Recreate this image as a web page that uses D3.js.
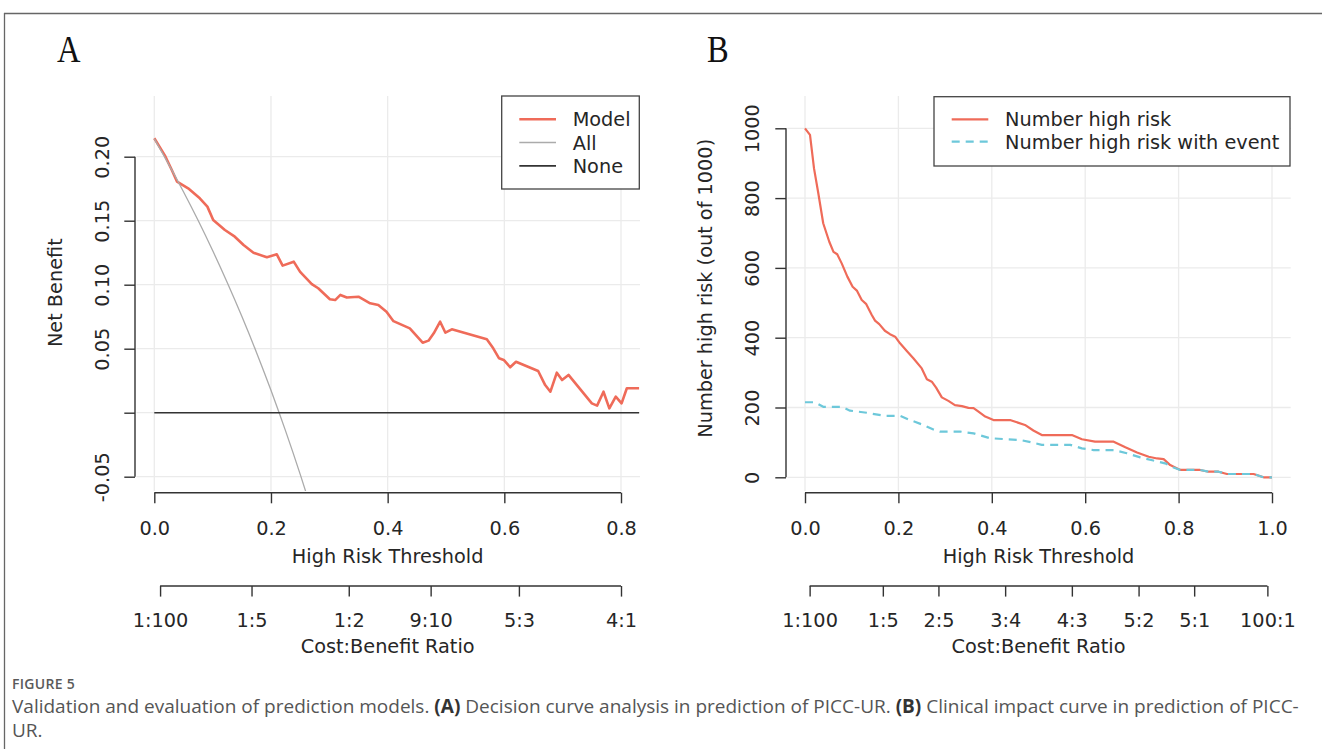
<!DOCTYPE html>
<html>
<head>
<meta charset="utf-8">
<script src="https://cdn.jsdelivr.net/npm/d3@7"></script>
<style>
  html, body { margin: 0; padding: 0; background: #fff; }
  svg { display: block; font-family: "DejaVu Sans", sans-serif; }
</style>
</head>
<body>
<svg id="chart" width="1322" height="749"></svg>
<script>
// ---------------- DATA ----------------
// Panel A: decision curve
const modelAThreshold = [0, 0.018, 0.030, 0.039, 0.058, 0.078, 0.091, 0.101, 0.121, 0.138, 0.153, 0.170, 0.193, 0.210, 0.220, 0.239, 0.250, 0.270, 0.281, 0.301, 0.310, 0.319, 0.330, 0.350, 0.370, 0.384, 0.398, 0.410, 0.438, 0.460, 0.470, 0.479, 0.490, 0.499, 0.510, 0.570, 0.581, 0.591, 0.599, 0.610, 0.620, 0.658, 0.670, 0.679, 0.690, 0.699, 0.710, 0.750, 0.759, 0.770, 0.780, 0.791, 0.801, 0.810, 0.831];
const modelANetBenefit = [0.2144, 0.201, 0.1896, 0.1805, 0.1753, 0.1675, 0.161, 0.1505, 0.1427, 0.1375, 0.131, 0.125, 0.1214, 0.1237, 0.1149, 0.118, 0.110, 0.1005, 0.0972, 0.0886, 0.088, 0.092, 0.090, 0.0906, 0.0855, 0.0841, 0.0789, 0.0715, 0.0659, 0.0547, 0.0563, 0.062, 0.0711, 0.0625, 0.0651, 0.0573, 0.0503, 0.0425, 0.0412, 0.0355, 0.0398, 0.0326, 0.0216, 0.0164, 0.0313, 0.0255, 0.0295, 0.0073, 0.0055, 0.0164, 0.0034, 0.0125, 0.0073, 0.0191, 0.0191];
const allAThreshold = [0, 0.025, 0.05, 0.075, 0.10, 0.125, 0.15, 0.175, 0.20, 0.214, 0.225, 0.25, 0.26];
const allANetBenefit = [0.214, 0.1938, 0.1726, 0.1503, 0.1267, 0.1017, 0.0753, 0.0473, 0.0175, 0.0, -0.0142, -0.048, -0.0622];
const noneAThreshold = [0, 0.831];
const noneANetBenefit = [0, 0];
const xTicksA = [0, 0.2, 0.4, 0.6, 0.8];
const xTickLabelsA = ["0.0", "0.2", "0.4", "0.6", "0.8"];
const yTicksA = [-0.05, 0, 0.05, 0.10, 0.15, 0.20];
const yTickLabelsA = ["-0.05", "", "0.05", "0.10", "0.15", "0.20"];
const costBenefitA = ["1:100", "1:5", "1:2", "9:10", "5:3", "4:1"];
const legendA = ["Model", "All", "None"];

// Panel B: clinical impact curve
const highRiskThreshold = [0, 0.0107, 0.0193, 0.0285, 0.039, 0.052, 0.061, 0.069, 0.0786, 0.0907, 0.102, 0.111, 0.1215, 0.1307, 0.143, 0.150, 0.159, 0.171, 0.182, 0.193, 0.2035, 0.218, 0.232, 0.250, 0.261, 0.2715, 0.2807, 0.293, 0.307, 0.321, 0.336, 0.350, 0.361, 0.3715, 0.386, 0.4035, 0.439, 0.471, 0.489, 0.507, 0.5715, 0.593, 0.621, 0.661, 0.686, 0.711, 0.736, 0.754, 0.768, 0.782, 0.8035, 0.846, 0.864, 0.8856, 0.9035, 0.9606, 0.982, 1.0];
const highRiskCount = [1000, 981, 885, 814, 728, 675, 646, 639, 613, 575, 546, 535, 508, 497, 465, 449, 439, 420, 410, 403, 384, 362, 341, 312, 281, 274, 257, 229, 219, 207, 204, 199, 198, 188, 174, 164, 164, 150, 134, 121, 121, 109, 102, 102, 86, 71, 59, 54, 52, 35, 21, 21, 16, 16, 9.5, 9.5, 0, 0];
const eventThreshold = [0, 0.021, 0.039, 0.0786, 0.0964, 0.132, 0.171, 0.2035, 0.225, 0.2535, 0.275, 0.289, 0.332, 0.361, 0.396, 0.432, 0.4607, 0.489, 0.507, 0.568, 0.593, 0.618, 0.661, 0.689, 0.718, 0.746, 0.771, 0.786, 0.8035, 0.846, 0.864, 0.8856, 0.9035, 0.9606, 0.982, 1.0];
const eventCount = [215, 215, 202, 202, 191, 185, 176, 176, 164, 150, 137, 131, 131, 126, 112, 109, 107, 99, 93, 93, 83, 78, 78, 69, 57, 48, 40, 30, 21, 21, 16, 16, 9.5, 9.5, 0, 0];
const xTicksB = [0, 0.2, 0.4, 0.6, 0.8, 1.0];
const xTickLabelsB = ["0.0", "0.2", "0.4", "0.6", "0.8", "1.0"];
const yTicksB = [0, 200, 400, 600, 800, 1000];
const yTickLabelsB = ["0", "200", "400", "600", "800", "1000"];
const costBenefitB = ["1:100", "1:5", "2:5", "3:4", "4:3", "5:2", "5:1", "100:1"];
const legendB = ["Number high risk", "Number high risk with event"];

// ---------------- STYLE ----------------
const RED = "#EF6B59", BLUE = "#6DC8DA", GREY = "#ABABAB", DARK = "#333333";
const GRID = "#EBEBEB", TXT = "#262626", FS = 19.3;
const SANS = "'DejaVu Sans', sans-serif";

const svg = d3.select("#chart");

// figure frame
svg.append("line").attr("x1", 4).attr("x2", 1322).attr("y1", 13.5).attr("y2", 13.5).attr("stroke", "#666").attr("stroke-width", 1.3);
svg.append("line").attr("x1", 4.5).attr("x2", 4.5).attr("y1", 13).attr("y2", 749).attr("stroke", "#666").attr("stroke-width", 1.3);

function ratioToThreshold(s) {
  const [c, b] = s.split(":").map(Number);
  return c / (c + b);
}

function panel(cfg) {
  const g = svg.append("g");
  const x = d3.scaleLinear().domain(cfg.xDomain).range(cfg.xRange);
  const y = d3.scaleLinear().domain(cfg.yDomain).range(cfg.yRange);
  const pr = cfg.plotRect; // [left, top, right, bottom]

  // grid
  g.append("g").selectAll("line").data(cfg.xTicks).join("line")
    .attr("x1", d => x(d)).attr("x2", d => x(d))
    .attr("y1", pr[1]).attr("y2", pr[3])
    .attr("stroke", GRID).attr("stroke-width", 1.3);
  g.append("g").selectAll("line").data(cfg.yTicks).join("line")
    .attr("x1", pr[0] + 1.5).attr("x2", pr[2])
    .attr("y1", d => y(d)).attr("y2", d => y(d))
    .attr("stroke", GRID).attr("stroke-width", 1.3);

  // clip
  const clipId = "clip" + cfg.id;
  svg.append("clipPath").attr("id", clipId).append("rect")
    .attr("x", pr[0]).attr("y", pr[1]).attr("width", pr[2] - pr[0]).attr("height", pr[3] - pr[1]);
  const plot = g.append("g").attr("clip-path", `url(#${clipId})`);

  cfg.series.forEach(s => {
    const pts = s.x.map((v, i) => [v, s.y[i]]);
    const line = d3.line().x(d => x(d[0])).y(d => y(d[1]))
      .curve(s.smooth ? d3.curveMonotoneX : d3.curveLinear);
    plot.append("path").datum(pts)
      .attr("d", line)
      .attr("fill", "none")
      .attr("stroke", s.color)
      .attr("stroke-width", s.width)
      .attr("stroke-linejoin", "round")
      .attr("stroke-dasharray", s.dash || null);
  });

  // x axis (High Risk Threshold)
  const axY = pr[3] + 1.7;
  const xAxis = g.append("g").attr("transform", `translate(0,${axY})`)
    .call(d3.axisBottom(x).tickValues(cfg.xTicks).tickSize(10.6)
      .tickFormat((d, i) => cfg.xTickLabels[i]));
  styleAxis(xAxis);
  xAxis.selectAll("text").attr("y", 42.6).attr("dy", null);
  xAxis.append("line").attr("x1", x(cfg.xTicks[0])).attr("x2", x(cfg.xTicks[cfg.xTicks.length - 1]))
    .attr("stroke", DARK).attr("stroke-width", 1.4);
  g.append("text").attr("x", (x(cfg.xTicks[0]) + x(cfg.xTicks[cfg.xTicks.length - 1])) / 2)
    .attr("y", 563).attr("text-anchor", "middle").attr("font-size", FS).attr("fill", TXT)
    .style("font-family", SANS)
    .text("High Risk Threshold");

  // cost:benefit axis
  const cbT = cfg.costBenefit.map(ratioToThreshold);
  const cbAxis = g.append("g").attr("transform", `translate(0,586)`)
    .call(d3.axisBottom(x).tickValues(cbT).tickSize(10.6)
      .tickFormat((d, i) => cfg.costBenefit[i]));
  styleAxis(cbAxis);
  cbAxis.selectAll("text").attr("y", 41).attr("dy", null);
  cbAxis.append("line").attr("x1", x(cbT[0])).attr("x2", x(cbT[cbT.length - 1]))
    .attr("stroke", DARK).attr("stroke-width", 1.4);
  g.append("text").attr("x", (x(cfg.xTicks[0]) + x(cfg.xTicks[cfg.xTicks.length - 1])) / 2)
    .attr("y", 653).attr("text-anchor", "middle").attr("font-size", FS).attr("fill", TXT)
    .style("font-family", SANS)
    .text("Cost:Benefit Ratio");

  // y axis
  const yAxis = g.append("g").attr("transform", `translate(${pr[0]},0)`)
    .call(d3.axisLeft(y).tickValues(cfg.yTicks).tickSize(10.7)
      .tickFormat((d, i) => cfg.yTickLabels[i]));
  styleAxis(yAxis);
  yAxis.selectAll("text").attr("x", null).attr("dy", null)
    .attr("text-anchor", "middle")
    .attr("transform", `translate(${cfg.yLabelOffset},0) rotate(-90)`);
  yAxis.append("line").attr("y1", y(cfg.yTicks[0])).attr("y2", y(cfg.yTicks[cfg.yTicks.length - 1]))
    .attr("stroke", DARK).attr("stroke-width", 1.4);
  g.append("text")
    .attr("transform", `translate(${cfg.yTitleX},${(y(cfg.yTicks[0]) + y(cfg.yTicks[cfg.yTicks.length - 1])) / 2 + cfg.yTitleDy}) rotate(-90)`)
    .attr("text-anchor", "middle").attr("font-size", FS).attr("fill", TXT)
    .style("font-family", SANS)
    .text(cfg.yTitle);

  // legend
  const L = cfg.legend;
  g.append("rect").attr("x", L.box[0]).attr("y", L.box[1])
    .attr("width", L.box[2] - L.box[0]).attr("height", L.box[3] - L.box[1])
    .attr("fill", "#fff").attr("stroke", "#444").attr("stroke-width", 1.3);
  L.labels.forEach((lab, i) => {
    const s = cfg.series[i];
    const ly = L.rowY + i * L.rowGap;
    g.append("line").attr("x1", L.lineX[0]).attr("x2", L.lineX[1])
      .attr("y1", ly).attr("y2", ly)
      .attr("stroke", s.color).attr("stroke-width", s.legendWidth || s.width)
      .attr("stroke-dasharray", s.dash || null);
    g.append("text").attr("x", L.textX).attr("y", ly + 7)
      .attr("font-size", FS).attr("fill", TXT).style("font-family", SANS).text(lab);
  });

  // panel letter
  svg.append("text")
    .attr("transform", `translate(${cfg.letterX},62) scale(0.88,1)`)
    .style("font-family", "'Liberation Serif', 'Times New Roman', serif")
    .attr("font-size", 37)
    .attr("fill", "#111").text(cfg.letter);
}

function styleAxis(a) {
  a.select(".domain").remove();
  a.selectAll(".tick line").attr("stroke", DARK).attr("stroke-width", 1.4);
  a.attr("font-family", null).attr("font-size", null);
  a.selectAll("text").attr("font-size", FS).attr("fill", TXT)
    .style("font-family", SANS);
}

panel({
  id: "A", letter: "A", letterX: 57,
  xDomain: [0, 0.8], xRange: [154.3, 621],
  yDomain: [-0.05, 0.20], yRange: [476.7, 156.7],
  plotRect: [135, 96, 640, 491],
  xTicks: xTicksA, xTickLabels: xTickLabelsA,
  yTicks: yTicksA, yTickLabels: yTickLabelsA,
  costBenefit: costBenefitA,
  yLabelOffset: -26.3, yTitle: "Net Benefit", yTitleX: 62, yTitleDy: -24,
  series: [
    { x: modelAThreshold, y: modelANetBenefit, color: RED, width: 2.6 },
    { x: allAThreshold, y: allANetBenefit, color: GREY, width: 1.3, smooth: true, legendWidth: 1.5 },
    { x: noneAThreshold, y: noneANetBenefit, color: DARK, width: 1.6 }
  ],
  legend: { box: [501.7, 96, 639.3, 189], lineX: [519.3, 556], textX: 572.7, rowY: 119.3, rowGap: 23.3, labels: legendA }
});

panel({
  id: "B", letter: "B", letterX: 707,
  xDomain: [0, 1], xRange: [805, 1272],
  yDomain: [0, 1000], yRange: [477.3, 128.3],
  plotRect: [786, 96, 1290.7, 491],
  xTicks: xTicksB, xTickLabels: xTickLabelsB,
  yTicks: yTicksB, yTickLabels: yTickLabelsB,
  costBenefit: costBenefitB,
  yLabelOffset: -27.3, yTitle: "Number high risk (out of 1000)", yTitleX: 712, yTitleDy: -14.5,
  series: [
    { x: highRiskThreshold, y: highRiskCount, color: RED, width: 2.2 },
    { x: eventThreshold, y: eventCount, color: BLUE, width: 2.2, dash: "8,6" }
  ],
  legend: { box: [934, 96.7, 1290, 166], lineX: [951.7, 988.3], textX: 1005, rowY: 119.3, rowGap: 22.4, labels: legendB }
});

// ---------------- CAPTION ----------------
const capFont = "'Open Sans', 'Noto Sans', sans-serif";
svg.append("text").attr("x", 12).attr("y", 689)
  .style("font-family", capFont).attr("font-size", 14).attr("font-weight", 600)
  .attr("letter-spacing", 0.3)
  .attr("fill", "#5a5a5a").text("FIGURE 5");

const capLine1 = [
  { t: "Validation and evaluation of prediction models. ", b: false },
  { t: "(A)", b: true },
  { t: " Decision curve analysis in prediction of PICC-UR. ", b: false },
  { t: "(B)", b: true },
  { t: " Clinical impact curve in prediction of PICC-", b: false }
];
const cap1 = svg.append("text").attr("x", 12).attr("y", 713)
  .style("font-family", capFont).attr("font-size", 16).attr("fill", "#555");
capLine1.forEach(p => {
  cap1.append("tspan").attr("font-weight", p.b ? 700 : 400)
    .attr("fill", p.b ? "#333" : "#555").text(p.t);
});
const w1 = cap1.node().getComputedTextLength();
const fs1 = 16 * (1288 / w1);
cap1.attr("font-size", fs1);
svg.append("text").attr("x", 12).attr("y", 737)
  .style("font-family", capFont).attr("font-size", fs1).attr("fill", "#555").text("UR.");
</script>
</body>
</html>
